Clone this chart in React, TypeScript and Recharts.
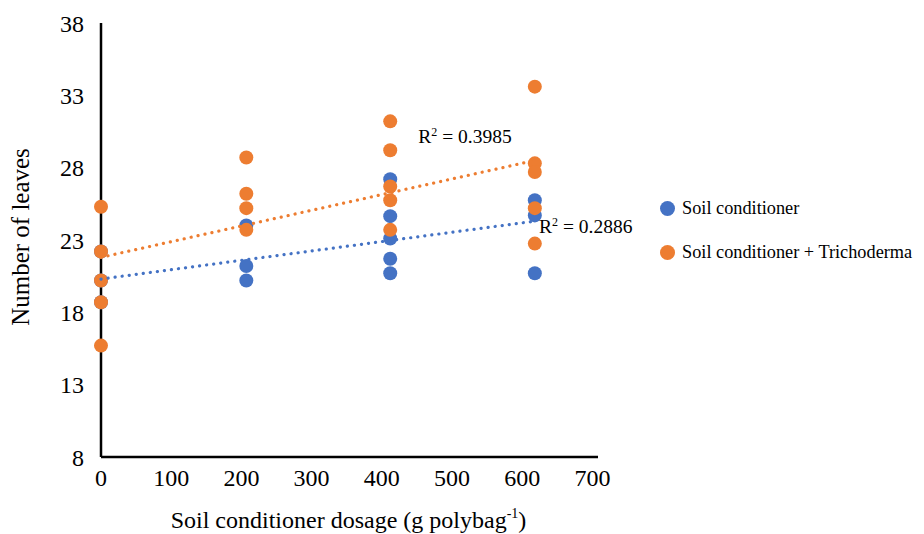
import { ScatterChart, Scatter, XAxis, YAxis, ReferenceDot, Label } from 'recharts';

const BLUE = '#4472C4';
const ORANGE = '#ED7D31';
const FONT = '"Liberation Serif", "Times New Roman", serif';

const dosageTicks = [0, 100, 200, 300, 400, 500, 600, 700];
const leafTicks = [8, 13, 18, 23, 28, 33, 38];

// Soil conditioner alone
const soilConditioner = [
  { dosage: 0, leaves: 22.2 },
  { dosage: 0, leaves: 20.2 },
  { dosage: 0, leaves: 18.7 },
  { dosage: 207, leaves: 24.0 },
  { dosage: 207, leaves: 21.2 },
  { dosage: 207, leaves: 20.2 },
  { dosage: 412, leaves: 27.2 },
  { dosage: 412, leaves: 24.65 },
  { dosage: 412, leaves: 23.1 },
  { dosage: 412, leaves: 21.7 },
  { dosage: 412, leaves: 20.7 },
  { dosage: 618, leaves: 25.75 },
  { dosage: 618, leaves: 24.7 },
  { dosage: 618, leaves: 20.7 },
];

// Soil conditioner + Trichoderma
const withTrichoderma = [
  { dosage: 0, leaves: 25.3 },
  { dosage: 0, leaves: 22.2 },
  { dosage: 0, leaves: 20.2 },
  { dosage: 0, leaves: 18.7 },
  { dosage: 0, leaves: 15.7 },
  { dosage: 207, leaves: 28.7 },
  { dosage: 207, leaves: 26.2 },
  { dosage: 207, leaves: 25.2 },
  { dosage: 207, leaves: 23.7 },
  { dosage: 412, leaves: 31.2 },
  { dosage: 412, leaves: 29.2 },
  { dosage: 412, leaves: 26.7 },
  { dosage: 412, leaves: 25.75 },
  { dosage: 412, leaves: 23.7 },
  { dosage: 618, leaves: 33.6 },
  { dosage: 618, leaves: 28.3 },
  { dosage: 618, leaves: 27.7 },
  { dosage: 618, leaves: 25.2 },
  { dosage: 618, leaves: 22.75 },
];

// linear trendline end points
const soilTrend = [
  { dosage: 0, leaves: 20.3 },
  { dosage: 618, leaves: 24.3 },
];
const trichoTrend = [
  { dosage: 0, leaves: 21.8 },
  { dosage: 618, leaves: 28.5 },
];

const rSquared = [
  { dosage: 452, leaves: 30.1, text: '0.3985' },
  { dosage: 624, leaves: 23.9, text: '0.2886' },
];

const legendItems = [
  { name: 'Soil conditioner', color: BLUE },
  { name: 'Soil conditioner + Trichoderma', color: ORANGE },
];

const dot = (color: string) => (props: any) => (
  <circle cx={props.cx} cy={props.cy} r={7} fill={color} />
);

const trendLine = (color: string) => ({
  stroke: color,
  strokeWidth: 3.2,
  strokeDasharray: '0.1 7',
  strokeLinecap: 'round' as const,
});

export default function App() {
  return (
    <div style={{ position: 'absolute', left: 0, top: 0, width: 924, height: 534, background: '#fff', fontFamily: FONT }}>
      <ScatterChart width={924} height={534} margin={{ top: 23, right: 326, bottom: 17, left: 41 }}>
        <XAxis
          type="number"
          dataKey="dosage"
          domain={[0, 708]}
          ticks={dosageTicks}
          interval={0}
          height={60}
          tickSize={0}
          tickMargin={12}
          axisLine={{ stroke: '#000', strokeWidth: 2.5 }}
          tick={{ fill: '#000', fontSize: 24, fontFamily: FONT }}
        >
          <Label
            content={(p: any) => {
              const vb = p.viewBox;
              return (
                <text x={vb.x + vb.width / 2 - 1} y={vb.y + 71} textAnchor="middle" fill="#000" fontSize={24} fontFamily={FONT}>
                  Soil conditioner dosage (g polybag
                  <tspan fontSize={14} dy={-10}>-1</tspan>
                  <tspan dy={10}>)</tspan>
                </text>
              );
            }}
          />
        </XAxis>
        <YAxis
          type="number"
          dataKey="leaves"
          domain={[8, 38]}
          ticks={leafTicks}
          interval={0}
          width={60}
          tickSize={0}
          tickMargin={17}
          axisLine={{ stroke: '#000', strokeWidth: 2.5 }}
          tick={{ fill: '#000', fontSize: 24, fontFamily: FONT }}
        >
          <Label
            content={(p: any) => {
              const vb = p.viewBox;
              const cx = vb.x - 12;
              const cy = vb.y + vb.height / 2 - 3;
              return (
                <text x={cx} y={cy} transform={`rotate(-90 ${cx} ${cy})`} textAnchor="middle" fill="#000" fontSize={25} fontFamily={FONT}>
                  Number of leaves
                </text>
              );
            }}
          />
        </YAxis>
        <Scatter name="Soil conditioner" data={soilConditioner} shape={dot(BLUE)} isAnimationActive={false} />
        <Scatter name="Soil conditioner + Trichoderma" data={withTrichoderma} shape={dot(ORANGE)} isAnimationActive={false} />
        <Scatter data={soilTrend} line={trendLine(BLUE)} shape={() => <g />} isAnimationActive={false} />
        <Scatter data={trichoTrend} line={trendLine(ORANGE)} shape={() => <g />} isAnimationActive={false} />
        {rSquared.map((r) => (
          <ReferenceDot
            key={r.text}
            x={r.dosage}
            y={r.leaves}
            r={0}
            stroke="none"
            fill="none"
            label={{
              content: (p: any) => {
                const vb = p.viewBox;
                return (
                  <text x={vb.x} y={vb.y + 6} fill="#000" fontSize={19.5} fontFamily={FONT}>
                    R<tspan fontSize={12} dy={-7}>2</tspan>
                    <tspan dy={7}>{` = ${r.text}`}</tspan>
                  </text>
                );
              },
            }}
          />
        ))}
      </ScatterChart>
      <div style={{ position: 'absolute', left: 660, top: 196 }}>
        {legendItems.map((item) => (
          <div key={item.name} style={{ display: 'flex', alignItems: 'center', height: 24, marginBottom: 20 }}>
            <span style={{ width: 15, height: 15, borderRadius: '50%', background: item.color, display: 'inline-block', marginRight: 7 }} />
            <span style={{ fontSize: 18.3, color: '#000', whiteSpace: 'nowrap' }}>{item.name}</span>
          </div>
        ))}
      </div>
    </div>
  );
}
